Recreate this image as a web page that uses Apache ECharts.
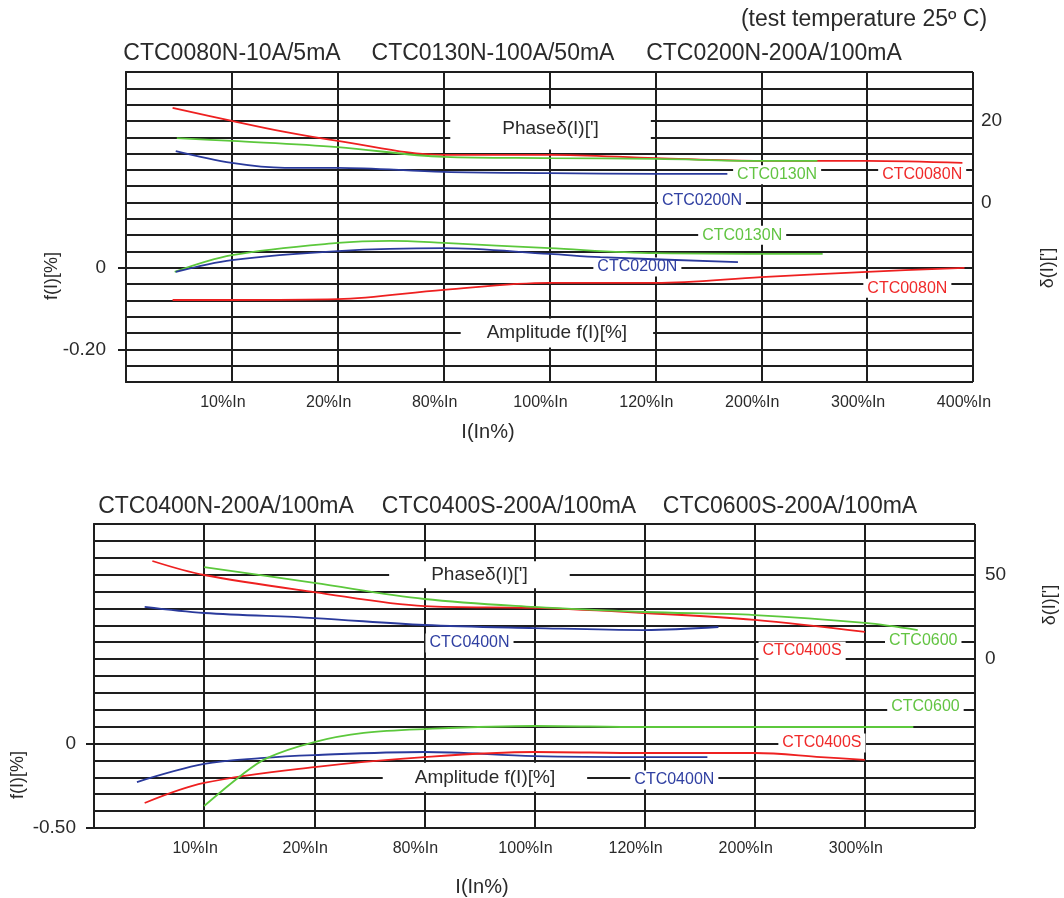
<!DOCTYPE html>
<html><head><meta charset="utf-8">
<script src="https://cdn.jsdelivr.net/npm/echarts@6/dist/echarts.min.js"></script>
<style>html,body{margin:0;padding:0;background:#fff}#c{width:1064px;height:898px}</style>
</head><body><div id="c"></div>
<script>
// ---------- categories / tick labels ----------
const topCats = ['10%In','20%In','80%In','100%In','120%In','200%In','300%In','400%In'];
const botCats = ['10%In','20%In','80%In','100%In','120%In','200%In','300%In'];
const topLeftTicks = [0, -0.2];
const topRightTicks = [0, 20];
const botLeftTicks = [0, -0.5];
const botRightTicks = [0, 50];

// ---------- top panel: phase δ(I) [°] (right axis), x in category-column units ----------
const t80PhaseX = [0.44, 1, 1.5, 2, 3, 4, 5, 6, 7, 7.9];
const t80PhaseY = [23.2, 20.0, 17.3, 15.1, 11.7, 11.7, 10.9, 10.2, 10.2, 9.7];
const t130PhaseX = [0.48, 1, 2, 3, 4, 5, 6, 6.53];
const t130PhaseY = [15.8, 15.1, 13.6, 11.2, 10.9, 10.7, 10.2, 10.2];
const t200PhaseX = [0.47, 1, 1.5, 2, 3, 4, 5, 5.68];
const t200PhaseY = [12.6, 9.7, 8.5, 8.5, 7.5, 7.2, 7.0, 7.0];
// ---------- top panel: amplitude f(I) [%] (left axis) ----------
const t80AmpX = [0.44, 1, 2, 3, 4, 5, 6, 7, 7.92];
const t80AmpY = [-0.079, -0.079, -0.077, -0.054, -0.037, -0.037, -0.023, -0.010, 0];
const t130AmpX = [0.46, 1, 2, 2.5, 3, 4, 5, 6.58];
const t130AmpY = [-0.010, 0.031, 0.061, 0.066, 0.061, 0.048, 0.036, 0.034];
const t200AmpX = [0.47, 1, 2, 3, 4, 4.48, 5.78];
const t200AmpY = [-0.010, 0.019, 0.041, 0.048, 0.034, 0.026, 0.014];

// ---------- bottom panel: phase ----------
const b400NPhaseX = [0.46, 1, 2, 3, 4, 5, 5.67];
const b400NPhaseY = [30.9, 27.3, 24.3, 20.2, 18.4, 17.2, 19.0];
const b400SPhaseX = [0.53, 1, 2, 3, 4, 5, 6, 7];
const b400SPhaseY = [58.1, 49.8, 39.7, 31.4, 30.3, 27.3, 23.2, 16.1];
const b600PhaseX = [1, 2, 3, 4, 5, 6, 7, 7.48];
const b600PhaseY = [54.5, 45.1, 35.6, 30.9, 27.9, 26.1, 21.4, 17.2];
// ---------- bottom panel: amplitude ----------
const b400NAmpX = [0.39, 1, 1.51, 2, 3, 4, 5, 5.57];
const b400NAmpY = [-0.228, -0.121, -0.086, -0.068, -0.050, -0.074, -0.080, -0.080];
const b400SAmpX = [0.46, 1, 2, 3, 4, 5, 6, 6.6, 7];
const b400SAmpY = [-0.352, -0.233, -0.139, -0.080, -0.050, -0.056, -0.056, -0.080, -0.097];
const b600AmpX = [1, 1.33, 1.57, 2, 2.45, 3, 4, 5, 6, 7, 7.44];
const b600AmpY = [-0.370, -0.192, -0.086, 0.009, 0.063, 0.086, 0.104, 0.098, 0.098, 0.098, 0.098];

// ---------- annotations (data coords on left axes) ----------
const topNoteText = ['CTC0130N', 'CTC0080N', 'CTC0200N', 'CTC0130N', 'CTC0200N', 'CTC0080N'];
const topNoteX = [6.15, 7.52, 5.44, 5.82, 4.83, 7.38];
const topNoteY = [0.228, 0.228, 0.164, 0.080, 0.002, -0.050];
const botNoteText = ['CTC0400N', 'CTC0400S', 'CTC0600', 'CTC0600', 'CTC0400S', 'CTC0400N'];
const botNoteX = [3.41, 6.43, 7.53, 7.55, 6.61, 5.27];
const botNoteY = [0.595, 0.548, 0.607, 0.216, 0.003, -0.216];
const boxText = ['Phaseδ(I)[\']', 'Amplitude f(I)[%]'];
const topBoxX = [4.01, 4.07];
const topBoxY = [0.34, -0.16];
const botBoxX = [3.5, 3.55];
const botBoxY = [1.0, -0.2];

// ---------- styling ----------
const FONT = '"Liberation Sans", Arial, Helvetica, sans-serif';
const RED = '#ee2020', GREEN = '#5cc83c', BLUE = '#2a3a9c';
const TXT = '#2a2a2a';
const noteColor = {CTC0080N: '#f02a2a', CTC0130N: '#62c442', CTC0200N: '#3040a2',
  CTC0400N: '#3040a2', CTC0400S: '#f02a2a', CTC0600: '#62c442'};
const gridLine = {color: '#1e1e1e', width: 2};

const zip = (xs, ys) => xs.map((x, i) => [x, ys[i]]);

function lineSeries(name, xs, ys, color, xi, yi) {
  return {type: 'line', name, xAxisIndex: xi, yAxisIndex: yi, data: zip(xs, ys),
    smooth: 0.35, showSymbol: false, symbol: 'none', z: 5,
    lineStyle: {color, width: 1.8}, silent: true};
}
function noteSeries(texts, xs, ys, xi, yi) {
  return {type: 'scatter', xAxisIndex: xi, yAxisIndex: yi, symbolSize: 1, z: 3, silent: true,
    itemStyle: {color: 'rgba(0,0,0,0)', opacity: 1},
    data: texts.map((t, i) => ({name: t, value: [xs[i], ys[i]],
      label: {color: noteColor[t]}})),
    label: {show: true, position: 'inside', formatter: '{b}', fontFamily: FONT, fontSize: 16,
      backgroundColor: '#fff', padding: [2, 4, 1, 4], opacity: 1}};
}
function boxSeries(xs, ys, pads, xi, yi) {
  return {type: 'scatter', xAxisIndex: xi, yAxisIndex: yi, symbolSize: 1, z: 3, silent: true,
    itemStyle: {color: 'rgba(0,0,0,0)', opacity: 1},
    data: boxText.map((t, i) => ({name: t, value: [xs[i], ys[i]], label: {padding: pads[i]}})),
    label: {show: true, position: 'inside', formatter: '{b}', fontFamily: FONT, fontSize: 19,
      color: TXT, backgroundColor: '#fff', opacity: 1}};
}
// labelled x axis (no grid lines) + plain grid axis
function xAxisLab(gi, cats) {
  return {type: 'value', gridIndex: gi, min: 0, max: 8, interval: 1,
    axisLine: {show: true, lineStyle: gridLine}, axisTick: {show: false},
    splitLine: {show: false},
    axisLabel: {customValues: cats.map((_, i) => i + 1),
      formatter: v => cats[Math.round(v) - 1] || '',
      fontFamily: FONT, fontSize: 16, color: TXT, margin: 13, padding: [0, 18, 0, 0]}};
}
function xAxisGrid(gi) {
  return {type: 'value', gridIndex: gi, min: 0, max: 8, interval: 1,
    axisLine: {show: false}, axisTick: {show: false}, axisLabel: {show: false},
    splitLine: {show: true, lineStyle: gridLine}};
}
function yAxisLab(gi, pos, min, max, interval, ticks, fmt, margin) {
  return {type: 'value', gridIndex: gi, position: pos, min, max, interval,
    axisLine: {show: true, lineStyle: gridLine},
    axisTick: {show: true, customValues: ticks, length: pos === 'left' ? 8 : 7, lineStyle: gridLine},
    splitLine: {show: false},
    axisLabel: {customValues: ticks, formatter: fmt, fontFamily: FONT, fontSize: 19,
      color: TXT, margin, padding: [6, 0, 0, 0]}};
}
function yAxisGrid(gi, min, max, interval) {
  return {type: 'value', gridIndex: gi, position: 'left', min, max, interval,
    axisLine: {show: false}, axisTick: {show: false}, axisLabel: {show: false},
    splitLine: {show: true, lineStyle: gridLine}};
}
const fmtLeft = v => (Math.abs(v) < 1e-9 ? '0' : v.toFixed(2));
const fmtRight = v => String(Math.round(v));

function txt(text, x, y, size, rot) {
  return {type: 'text', x, y, rotation: rot || 0, silent: true,
    style: {text, fontFamily: FONT, fontSize: size, fill: TXT, align: 'center', verticalAlign: 'middle'}};
}

const chart = echarts.init(document.getElementById('c'), null, {renderer: 'canvas'});
chart.setOption({
  animation: false,
  backgroundColor: '#fff',
  grid: [
    {left: 126, top: 72, width: 847, height: 310},
    {left: 94, top: 524, width: 881, height: 304}
  ],
  xAxis: [xAxisLab(0, topCats), xAxisLab(1, botCats), xAxisGrid(0), xAxisGrid(1)],
  yAxis: [
    yAxisLab(0, 'left', -0.28, 0.48, 0.04, topLeftTicks, fmtLeft, 20),
    yAxisLab(0, 'right', -44, 32, 4, topRightTicks, fmtRight, 8),
    yAxisLab(1, 'left', -0.5, 1.3, 0.1, botLeftTicks, fmtLeft, 18),
    yAxisLab(1, 'right', -100, 80, 10, botRightTicks, fmtRight, 10),
    yAxisGrid(0, -0.28, 0.48, 0.04),
    yAxisGrid(1, -0.5, 1.3, 0.1)
  ],
  graphic: [
    txt('(test temperature 25º C)', 864, 20, 23),
    txt('CTC0080N-10A/5mA', 232, 54, 23),
    txt('CTC0130N-100A/50mA', 493, 54, 23),
    txt('CTC0200N-200A/100mA', 774, 54, 23),
    txt('CTC0400N-200A/100mA', 226, 507, 23),
    txt('CTC0400S-200A/100mA', 509, 507, 23),
    txt('CTC0600S-200A/100mA', 790, 507, 23),
    txt('f(I)[%]', 52, 276, 18, Math.PI / 2),
    txt('δ(I)[\']', 1048, 268, 18, Math.PI / 2),
    txt('I(In%)', 488, 432, 20),
    txt('f(I)[%]', 18, 775, 18, Math.PI / 2),
    txt('δ(I)[\']', 1050, 605, 18, Math.PI / 2),
    txt('I(In%)', 482, 887, 20)
  ],
  series: [
    lineSeries('CTC0080N phase', t80PhaseX, t80PhaseY, RED, 0, 1),
    lineSeries('CTC0130N phase', t130PhaseX, t130PhaseY, GREEN, 0, 1),
    lineSeries('CTC0200N phase', t200PhaseX, t200PhaseY, BLUE, 0, 1),
    lineSeries('CTC0080N amp', t80AmpX, t80AmpY, RED, 0, 0),
    lineSeries('CTC0130N amp', t130AmpX, t130AmpY, GREEN, 0, 0),
    lineSeries('CTC0200N amp', t200AmpX, t200AmpY, BLUE, 0, 0),
    lineSeries('CTC0400N phase', b400NPhaseX, b400NPhaseY, BLUE, 1, 3),
    lineSeries('CTC0400S phase', b400SPhaseX, b400SPhaseY, RED, 1, 3),
    lineSeries('CTC0600 phase', b600PhaseX, b600PhaseY, GREEN, 1, 3),
    lineSeries('CTC0400N amp', b400NAmpX, b400NAmpY, BLUE, 1, 2),
    lineSeries('CTC0400S amp', b400SAmpX, b400SAmpY, RED, 1, 2),
    lineSeries('CTC0600 amp', b600AmpX, b600AmpY, GREEN, 1, 2),
    noteSeries(topNoteText, topNoteX, topNoteY, 0, 0),
    noteSeries(botNoteText, botNoteX, botNoteY, 1, 2),
    boxSeries(topBoxX, topBoxY, [[11, 52, 11, 52], [5, 26, 5, 26]], 0, 0),
    boxSeries(botBoxX, botBoxY, [[4, 42, 4, 42], [5, 32, 5, 32]], 1, 2)
  ]
});
</script>
</body></html>
